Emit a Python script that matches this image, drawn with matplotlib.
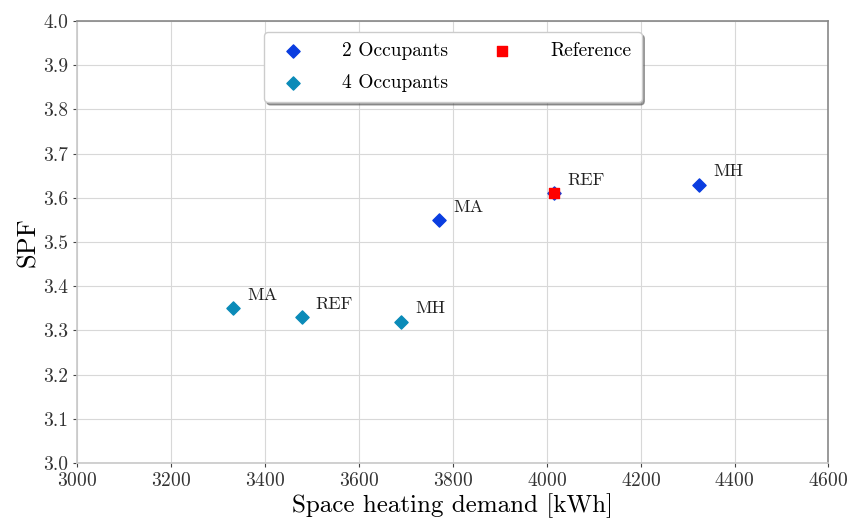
import matplotlib.pyplot as plt

plt.rcParams['font.family'] = 'cmr10'
plt.rcParams['mathtext.fontset'] = 'cm'
plt.rcParams['axes.formatter.use_mathtext'] = True

# variants: MA, REF, MH
labels = ['MA', 'REF', 'MH']
heat_2occ = [3771, 4015, 4325]
spf_2occ = [3.55, 3.61, 3.63]
heat_4occ = [3333, 3478, 3690]
spf_4occ = [3.35, 3.33, 3.32]
heat_ref = [4015]
spf_ref = [3.61]

fig = plt.figure(figsize=(8.51, 5.27), dpi=100)
ax = fig.add_axes([0.0905, 0.1214, 0.883, 0.8387])

ax.scatter(heat_2occ, spf_2occ, marker='D', s=45, color='#0a3de0', label='2 Occupants', zorder=3)
ax.scatter(heat_4occ, spf_4occ, marker='D', s=45, color='#0a8bb8', label='4 Occupants', zorder=3)
ax.scatter(heat_ref, spf_ref, marker='s', s=50, color='#ff0000', label='Reference', zorder=4)

for x, y, t in zip(heat_2occ, spf_2occ, labels):
    ax.annotate(t, (x, y), xytext=(10, 6), textcoords='offset points', fontsize=13, color='#222222')
for x, y, t in zip(heat_4occ, spf_4occ, labels):
    ax.annotate(t, (x, y), xytext=(10, 6), textcoords='offset points', fontsize=13, color='#222222')

ax.set_xlim(3000, 4600)
ax.set_ylim(3.0, 4.0)
ax.set_xticks(range(3000, 4601, 200))
ax.set_yticks([3.0 + 0.1 * i for i in range(11)])
ax.set_yticklabels([f'{3.0 + 0.1 * i:.1f}' for i in range(11)])
ax.grid(True, color='#d8d8d8', linewidth=0.8)
ax.set_axisbelow(True)

ax.set_xlabel('Space heating demand [kWh]', fontsize=18, labelpad=2)
ax.set_ylabel('SPF', fontsize=19, labelpad=2)
ax.tick_params(labelsize=14, colors='#444444', length=3, width=0.8, labelcolor='#333333')

ax.spines['left'].set_color('#c8c8c8')
ax.spines['bottom'].set_color('#c8c8c8')
ax.spines['top'].set_color('#888888')
ax.spines['right'].set_color('#888888')
for s in ax.spines.values():
    s.set_linewidth(1.2)

leg = ax.legend(loc='upper center', bbox_to_anchor=(0.5, 0.975), ncol=2, fontsize=14,
                frameon=True, fancybox=True, shadow=True, columnspacing=1.8,
                handletextpad=1.5, borderpad=0.5, labelspacing=0.75, borderaxespad=0)
leg.get_frame().set_edgecolor('#cccccc')

fig.savefig('out.png', dpi=100)
